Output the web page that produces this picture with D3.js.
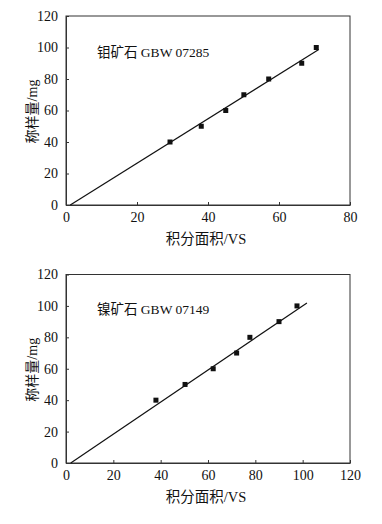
<!DOCTYPE html>
<html><head><meta charset="utf-8">
<script src="https://cdn.jsdelivr.net/npm/d3@7"></script>
<style>body{margin:0;background:#fff}svg{display:block}</style>
</head><body>
<svg id="c" width="382" height="524"></svg>
<script>
// Panel 1: 钼矿石 GBW 07285
const moArea = [29.3, 38.1, 45.0, 50.1, 57.1, 66.4, 70.5];
const moMass = [40, 50, 60, 70, 80, 90, 100];
const moFit = [[1.2, 0], [71.2, 98.7]];
const moXTicks = [0, 20, 40, 60, 80];
const moLabel = "钼矿石 GBW 07285";
// Panel 2: 镍矿石 GBW 07149
const niArea = [38.0, 50.3, 62.2, 72.1, 77.7, 90.0, 97.6];
const niMass = [40, 50, 60, 70, 80, 90, 100];
const niFit = [[2.0, 0], [101.8, 101.9]];
const niXTicks = [0, 20, 40, 60, 80, 100, 120];
const niLabel = "镍矿石 GBW 07149";
const yTicks = [0, 20, 40, 60, 80, 100, 120];
const xTitle = "积分面积/VS";
const yTitle = "称样量/mg";

const svg = d3.select("#c");
const FONT = "'Liberation Serif','Times New Roman','Noto Sans CJK SC',serif";

function panel(opt) {
  const g = svg.append("g");
  const x = d3.scaleLinear().domain([0, opt.xMax]).range([opt.left, opt.right]);
  const y = d3.scaleLinear().domain([0, 120]).range([opt.bottom, opt.top]);
  g.append("rect").attr("x", opt.left).attr("y", opt.top)
    .attr("width", opt.right - opt.left).attr("height", opt.bottom - opt.top)
    .attr("fill", "none").attr("stroke", "#333").attr("stroke-width", 1);
  const xa = g.append("g").attr("transform", `translate(0,${opt.bottom})`)
    .call(d3.axisBottom(x).tickValues(opt.xTicks).tickSizeInner(-3).tickSizeOuter(0).tickPadding(7));
  const ya = g.append("g").attr("transform", `translate(${opt.left},0)`)
    .call(d3.axisLeft(y).tickValues(yTicks).tickSizeInner(-3).tickSizeOuter(0).tickPadding(8));
  [xa, ya].forEach(a => {
    a.select(".domain").attr("stroke", "#333");
    a.selectAll(".tick line").attr("stroke", "#333");
    a.selectAll("text").attr("font-family", FONT).attr("font-size", 14).attr("fill", "#111");
  });
  g.append("path").datum(opt.fit)
    .attr("d", d3.line().x(d => x(d[0])).y(d => y(d[1])))
    .attr("stroke", "#111").attr("stroke-width", 1.2).attr("fill", "none");
  const pts = opt.xs.map((v, i) => [v, opt.ys[i]]);
  g.selectAll("rect.pt").data(pts).enter().append("rect").attr("class", "pt")
    .attr("x", d => x(d[0]) - 2.5).attr("y", d => y(d[1]) - 2.5)
    .attr("width", 5).attr("height", 5).attr("fill", "#111");
  g.append("text").attr("x", opt.left + 31).attr("y", y(opt.labelY))
    .attr("font-family", FONT).attr("font-size", 13.5).attr("fill", "#111").text(opt.label);
  g.append("text").attr("x", (opt.left + opt.right) / 2 - 2).attr("y", opt.bottom + 39)
    .attr("text-anchor", "middle").attr("font-family", FONT).attr("font-size", 14.5)
    .attr("fill", "#111").text(xTitle);
  g.append("text").attr("transform", `translate(37,${(opt.top + opt.bottom) / 2 + 1}) rotate(-90)`)
    .attr("text-anchor", "middle").attr("font-family", FONT).attr("font-size", 14)
    .attr("fill", "#111").text(yTitle);
}

panel({left: 66, right: 350, top: 16, bottom: 205, xMax: 80, xTicks: moXTicks,
  xs: moArea, ys: moMass, fit: moFit, label: moLabel, labelY: 94});
panel({left: 66, right: 350, top: 274.5, bottom: 463, xMax: 120, xTicks: niXTicks,
  xs: niArea, ys: niMass, fit: niFit, label: niLabel, labelY: 95});
</script>
</body></html>
